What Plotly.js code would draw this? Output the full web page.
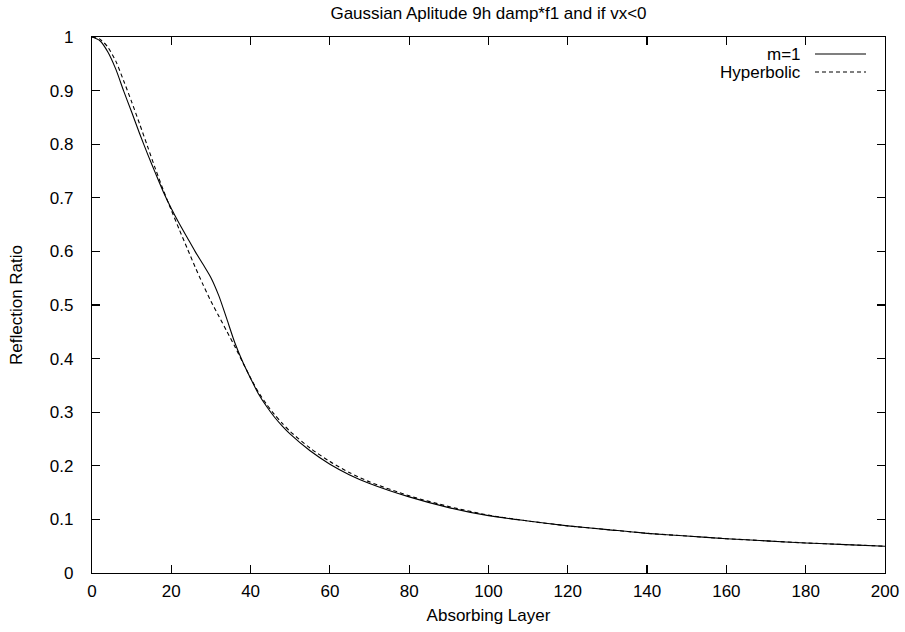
<!DOCTYPE html>
<html>
<head>
<meta charset="utf-8">
<script src="https://cdn.plot.ly/plotly-3.0.1.min.js"></script>
<style>html,body{margin:0;padding:0;background:#fff;}#chart{width:905px;height:632px;}</style>
</head>
<body>
<div id="chart"></div>
<script>
// Absorbing layer positions
const xM1 = [0, 2, 4, 6, 8, 10, 12, 14, 16, 18, 20, 22, 24, 26, 28, 30, 32, 34, 36, 38, 40, 42, 44, 46, 48, 50, 55, 60, 65, 70, 80, 90, 100, 110, 120, 130, 140, 150, 160, 170, 180, 190, 200];
const yM1 = [1.0, 0.993, 0.972, 0.94, 0.899, 0.86, 0.82, 0.782, 0.746, 0.711, 0.68, 0.652, 0.626, 0.6, 0.576, 0.551, 0.517, 0.474, 0.43, 0.394, 0.363, 0.334, 0.311, 0.291, 0.274, 0.259, 0.228, 0.203, 0.183, 0.167, 0.142, 0.122, 0.107, 0.097, 0.088, 0.081, 0.074, 0.069, 0.064, 0.06, 0.056, 0.053, 0.05];
const xHyp = [0, 2, 4, 6, 8, 10, 12, 14, 16, 18, 20, 22, 24, 26, 28, 30, 32, 34, 36, 38, 40, 42, 44, 46, 48, 50, 55, 60, 65, 70, 80, 90, 100, 110, 120, 130, 140, 150, 160, 170, 180, 190, 200];
const yHyp = [1.0, 0.996, 0.981, 0.955, 0.918, 0.879, 0.838, 0.796, 0.754, 0.714, 0.677, 0.641, 0.606, 0.571, 0.538, 0.507, 0.479, 0.451, 0.423, 0.393, 0.364, 0.337, 0.315, 0.296, 0.279, 0.264, 0.233, 0.208, 0.187, 0.17, 0.144, 0.124, 0.108, 0.097, 0.088, 0.081, 0.074, 0.069, 0.064, 0.06, 0.056, 0.053, 0.05];
const seriesNames = ["m=1", "Hyperbolic"];
const titleText = "Gaussian Aplitude 9h damp*f1 and if vx<0";
const xTitle = "Absorbing Layer";
const yTitle = "Reflection Ratio";

const font = {family: "Liberation Sans, Arial, sans-serif", size: 17, color: "#000"};

const traces = [
  {x: xM1, y: yM1, name: seriesNames[0], mode: "lines", line: {color: "#000", width: 1.1, shape: "spline", smoothing: 0.7}},
  {x: xHyp, y: yHyp, name: seriesNames[1], mode: "lines", line: {color: "#000", width: 1.1, dash: "4px,3px", shape: "spline", smoothing: 0.7}}
];

const L = 92, R = 885, T = 37, B = 573, W = 905, H = 632;
const axisCommon = {
  showgrid: false, zeroline: false, showline: true, linecolor: "#000", linewidth: 1.2,
  mirror: "allticks", ticks: "inside", ticklen: 8, tickwidth: 1.2, tickcolor: "#000",
  tickfont: font, automargin: false
};
const layout = {
  width: W, height: H,
  margin: {l: L, r: W - R, t: T, b: H - B},
  paper_bgcolor: "#fff", plot_bgcolor: "#fff",
  showlegend: false,
  font: font,
  title: {text: titleText, font: font, x: (L + R) / 2 / W, xanchor: "center", y: 1 - 13 / H, yanchor: "middle"},
  xaxis: Object.assign({}, axisCommon, {range: [0, 200], dtick: 20, tick0: 0, ticklabelstandoff: 2, title: {text: xTitle, font: font, standoff: 9}}),
  yaxis: Object.assign({}, axisCommon, {range: [0, 1], dtick: 0.1, tick0: 0, ticklabelstandoff: 14, title: {text: yTitle, font: font, standoff: 22}}),
  annotations: [
    {xref: "paper", yref: "paper", x: (803 - L) / (R - L), y: (B - 54) / (B - T), xanchor: "right", yanchor: "middle", text: seriesNames[0], showarrow: false, font: font},
    {xref: "paper", yref: "paper", x: (803 - L) / (R - L), y: (B - 72) / (B - T), xanchor: "right", yanchor: "middle", text: seriesNames[1], showarrow: false, font: font}
  ],
  shapes: [
    {type: "line", xref: "paper", yref: "paper", x0: (815 - L) / (R - L), x1: (866 - L) / (R - L), y0: (B - 54) / (B - T), y1: (B - 54) / (B - T), line: {color: "#000", width: 1.1}},
    {type: "line", xref: "paper", yref: "paper", x0: (815 - L) / (R - L), x1: (866 - L) / (R - L), y0: (B - 72) / (B - T), y1: (B - 72) / (B - T), line: {color: "#000", width: 1.1, dash: "4px,3px"}}
  ]
};
Plotly.newPlot("chart", traces, layout, {displayModeBar: false, staticPlot: true});
</script>
</body>
</html>
